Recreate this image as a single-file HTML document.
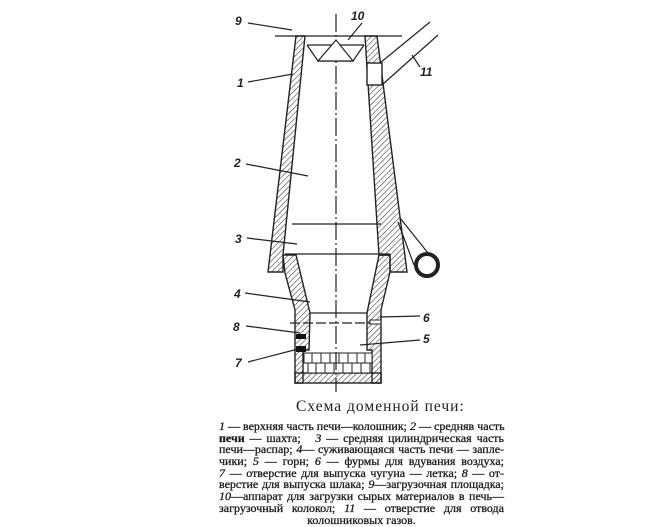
<!DOCTYPE html>
<html><head><meta charset="utf-8"><style>
html,body{margin:0;padding:0;background:#fff}
body{width:670px;height:524px;overflow:hidden;position:relative;font-family:"Liberation Serif","Noto Serif CJK SC",serif;color:#222}
svg{position:absolute;left:0;top:0}
#cap{position:absolute;left:219px;top:421px;width:285px;font-size:12px;line-height:11.7px;font-family:"Liberation Serif",serif;color:#1a1a1a;-webkit-text-stroke:0.3px #1a1a1a}
#cap div{text-align:justify;text-align-last:justify;white-space:nowrap;height:11.7px}
#cap div.c{text-align:center;text-align-last:center}
#cap i{font-style:italic}
</style></head><body>
<svg width="670" height="524" viewBox="0 0 670 524">
<defs><pattern id="h" width="4" height="4" patternUnits="userSpaceOnUse" patternTransform="rotate(45)"><line x1="0" y1="0" x2="0" y2="4" stroke="#333" stroke-width="1.1"/></pattern></defs>
<g stroke="#222" stroke-width="1.4" fill="url(#h)">
<polygon points="296,36 305,36 283,255 283,272 268,272"/>
<polygon points="365,36 377,36 407,272 390,272 390,255 379,255"/>
<rect x="367" y="63" width="15" height="22" fill="#fff"/>
<polygon points="283,255 296,255 310,313 309,350 303,350 303,383 295,383 295,310 285,273"/>
<polygon points="379,255 390,255 390,272 381,310 381,383 372,383 372,350 367,350 367,313"/>
<rect x="295" y="373" width="86" height="10"/>
</g>
<g stroke="#222" stroke-width="1" fill="#fff">
<rect x="304" y="353" width="68" height="10"/>
<rect x="308" y="363" width="62" height="10"/>
</g>
<g stroke="#222" stroke-width="1">
<line x1="312" y1="353" x2="312" y2="363"/><line x1="321" y1="353" x2="321" y2="363"/><line x1="330" y1="353" x2="330" y2="363"/><line x1="339" y1="353" x2="339" y2="363"/><line x1="348" y1="353" x2="348" y2="363"/><line x1="357" y1="353" x2="357" y2="363"/><line x1="365" y1="353" x2="365" y2="363"/>
<line x1="316" y1="363" x2="316" y2="373"/><line x1="325" y1="363" x2="325" y2="373"/><line x1="334" y1="363" x2="334" y2="373"/><line x1="343" y1="363" x2="343" y2="373"/><line x1="352" y1="363" x2="352" y2="373"/><line x1="361" y1="363" x2="361" y2="373"/>
</g>
<g stroke="#222" stroke-width="1.2" fill="none">
<line x1="275" y1="36" x2="402" y2="36"/>
<line x1="336" y1="14" x2="336" y2="392" stroke-dasharray="18,3,2,3"/>
<line x1="307" y1="45" x2="364" y2="45"/>
<polyline points="307,45 318,61 353,61 364,45"/>
<polygon points="336,40 318,61 353,61" fill="#fff"/>
<line x1="380" y1="63" x2="430" y2="22"/>
<line x1="383" y1="84" x2="438" y2="35"/>
<line x1="292" y1="224" x2="381" y2="224"/>
<line x1="285" y1="254" x2="390" y2="254"/>
<line x1="310" y1="313" x2="367" y2="313"/>
<line x1="290" y1="323" x2="380" y2="323" stroke-dasharray="10,3"/>
<line x1="400" y1="218" x2="428" y2="253"/>
<line x1="398" y1="222" x2="414" y2="265"/>
<circle cx="427" cy="265" r="11" stroke-width="4"/>
<line x1="248" y1="23" x2="292" y2="30"/>
<line x1="248" y1="82" x2="293" y2="74"/>
<line x1="246" y1="164" x2="308" y2="176"/>
<line x1="247" y1="238" x2="297" y2="244"/>
<line x1="245" y1="293" x2="310" y2="302"/>
<line x1="246" y1="326" x2="300" y2="333"/>
<line x1="248" y1="362" x2="298" y2="349"/>
<line x1="362" y1="23" x2="348" y2="40"/>
<line x1="380" y1="317" x2="420" y2="316"/>
<line x1="360" y1="345" x2="420" y2="340"/>
<line x1="412" y1="55" x2="420" y2="67"/>
</g>
<rect x="296" y="334" width="10" height="5" fill="#111"/>
<rect x="296" y="346" width="10" height="6" fill="#111"/>
<rect x="370" y="320" width="11" height="4" fill="#fff" stroke="#222"/>
<g font-family="Liberation Sans,sans-serif" font-style="italic" font-weight="bold" font-size="12" fill="#222">
<text x="235" y="25">9</text><text x="237" y="87">1</text><text x="234" y="167">2</text><text x="235" y="243">3</text><text x="234" y="298">4</text><text x="233" y="331">8</text><text x="235" y="367">7</text>
<text x="423" y="343">5</text><text x="423" y="322">6</text><text x="351" y="20">10</text><text x="420" y="76">11</text>
</g>
<text x="296" y="411" font-family="Liberation Serif,serif" font-size="15.5" fill="#222" letter-spacing="1">Схема доменной печи:</text>
</svg>
<div id="cap">
<div><i>1</i> — верхняя часть печи—колошник; <i>2</i> — средняв часть</div>
<div><b>печи</b> — шахта; &nbsp; <i>3</i> — средняя цилиндрическая часть</div>
<div>печи—распар; <i>4</i>— суживающаяся часть печи — запле-</div>
<div>чики; <i>5</i> — горн; <i>6</i> — фурмы для вдувания воздуха;</div>
<div><i>7</i> — отверстие для выпуска чугуна — летка; <i>8</i> — от-</div>
<div>верстие для выпуска шлака; <i>9</i>—загрузочная площадка;</div>
<div><i>10</i>—аппарат для загрузки сырых материалов в печь—</div>
<div>загрузочный колокол; <i>11</i> — отверстие для отвода</div>
<div class="c">колошниковых газов.</div>
</div>
</body></html>
